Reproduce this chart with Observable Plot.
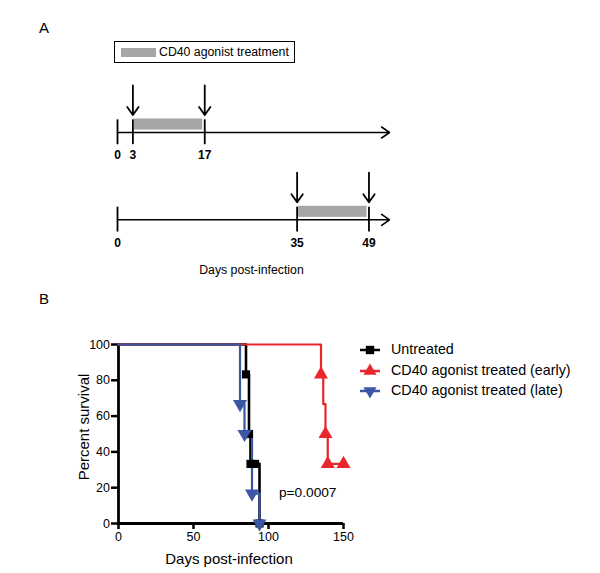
<!DOCTYPE html>
<html><head><meta charset="utf-8">
<script src="https://cdn.jsdelivr.net/npm/d3@7"></script>
<script src="https://cdn.jsdelivr.net/npm/@observablehq/plot@0.6"></script>
<style>
body{margin:0;background:#fff;font-family:"Liberation Sans",Arial,sans-serif;}
#root{position:relative;width:600px;height:573px;overflow:hidden;background:#fff}
.abs{position:absolute}
svg{overflow:visible}
</style></head><body><div id="root"></div>
<script>
// ---------- Panel A data ----------
const laneNames = ["early", "late"];
const laneIndex = [0, 1];
const treatStart = [3, 35];
const treatEnd = [17, 49];
const laneTicks = [[0, 3, 17], [0, 35, 49]];
const timelineMax = 53;
const panelAXLabel = "Days post-infection";
const treatmentLabel = "CD40 agonist treatment";

// ---------- Panel B data ----------
const seriesNames = ["Untreated", "CD40 agonist treated (early)", "CD40 agonist treated (late)"];
const seriesColors = ["#000000", "#e8262b", "#3b56a5"];
const seriesSymbols = ["square", "triangle", "triangle"];
const seriesRotate = [0, 0, 180];
const untreatedDays = [0, 85, 87, 88, 91, 94];
const untreatedSurv = [100, 83.3, 50, 33.3, 33.3, 0];
const untreatedMarked = [false, true, true, true, true, true];
const earlyDays = [0, 135, 136.5, 138, 139.5, 150];
const earlySurv = [100, 83.3, 66.7, 50, 33.3, 33.3];
const earlyMarked = [false, true, false, true, true, true];
const lateDays = [0, 81, 84, 89, 94];
const lateSurv = [100, 66.7, 50, 16.7, 0];
const lateMarked = [false, true, true, true, true];
const xTicks = [0, 50, 100, 150];
const yTicks = [0, 20, 40, 60, 80, 100];
const xLabelB = "Days post-infection";
const yLabelB = "Percent survival";
const pValueText = ["p=0.0007"];
const pValueX = [107];
const pValueY = [17];

const FONT = '"Liberation Sans", Arial, sans-serif';
const root = document.getElementById("root");

function place(el, left, top) {
  el.classList.add("abs");
  el.style.left = left + "px";
  el.style.top = top + "px";
  root.appendChild(el);
  return el;
}

// ---------- Panel A ----------
const lanes = laneNames.map((n, i) => ({name: n, lane: laneIndex[i], start: treatStart[i], end: treatEnd[i], from: 0, to: timelineMax}));
const tickData = lanes.flatMap((l, i) => laneTicks[i].map(d => ({day: d, lane: l.lane})));
const arrowData = lanes.flatMap(l => [l.start, l.end].map(d => ({day: d, lane: l.lane})));

const plotA = Plot.plot({
  width: 600, height: 290,
  style: {fontFamily: FONT, background: "transparent", overflow: "visible"},
  x: {domain: [0, timelineMax], range: [117, 389], axis: null},
  y: {domain: [0, 1], range: [132, 219.3], axis: null},
  marks: [
    Plot.rect(lanes, {x1: "start", x2: "end", y1: d => d.lane - 0.155, y2: d => d.lane - 0.028, fill: "#a6a6a6", insetLeft: 1.5, insetRight: 2}),
    Plot.arrow(lanes, {x1: "from", x2: "to", y1: "lane", y2: "lane", stroke: "#000", strokeWidth: 1.6, headLength: 9, headAngle: 70}),
    Plot.ruleX(tickData, {x: "day", y1: d => d.lane - 0.145, y2: d => d.lane + 0.14, stroke: "#000", strokeWidth: 1.8}),
    Plot.arrow(arrowData, {x1: "day", x2: "day", y1: d => d.lane - 0.54, y2: d => d.lane - 0.2, stroke: "#000", strokeWidth: 1.8, headLength: 9, headAngle: 70}),
    Plot.text(tickData, {x: "day", y: d => d.lane + 0.265, text: d => String(d.day), fontWeight: "bold", fontSize: 12, fill: "#000"}),
    Plot.text([panelAXLabel], {x: 26.1, y: 1.575, text: d => d, fontSize: 12.3, fill: "#000"})
  ]
});
place(plotA, 0, 0);

const labA = document.createElement("div");
labA.textContent = "A";
labA.style.cssText = "font-size:15px;color:#000;";
place(labA, 39, 19);

const box = document.createElement("div");
box.style.cssText = "width:179px;height:20px;border:1.5px solid #000;box-sizing:content-box;font-size:12.3px;color:#000;";
const sw = document.createElement("div");
sw.style.cssText = "position:absolute;left:6px;top:6px;width:35px;height:9px;background:#a6a6a6;";
box.appendChild(sw);
const bt = document.createElement("div");
bt.textContent = treatmentLabel;
bt.style.cssText = "position:absolute;left:44px;top:3px;white-space:nowrap;";
box.appendChild(bt);
place(box, 114, 41);

// ---------- Panel B ----------
const labB = document.createElement("div");
labB.textContent = "B";
labB.style.cssText = "font-size:15px;color:#000;";
place(labB, 39, 290);

const seriesDays = [untreatedDays, earlyDays, lateDays];
const seriesSurv = [untreatedSurv, earlySurv, lateSurv];
const seriesMarked = [untreatedMarked, earlyMarked, lateMarked];
const seriesWidth = [2.6, 2.2, 2.2];
const rows = seriesNames.map((name, s) => seriesDays[s].map((d, i) => ({series: name, day: d, surv: seriesSurv[s][i], marked: seriesMarked[s][i]})));

const lineMarks = [];
const drawOrder = [0, 1, 2];
for (const s of drawOrder) {
  lineMarks.push(Plot.line(rows[s], {x: "day", y: "surv", curve: "step-after", stroke: seriesColors[s], strokeWidth: seriesWidth[s]}));
}
const dotMarks = [];
for (const s of drawOrder) {
  dotMarks.push(Plot.dot(rows[s].filter(d => d.marked), {x: "day", y: "surv", symbol: seriesSymbols[s], r: seriesSymbols[s] === "square" ? 4.6 : 5.2, fill: seriesColors[s], stroke: "none", rotate: seriesRotate[s]}));
}

const plotB = Plot.plot({
  width: 600, height: 273,
  marginLeft: 118, marginRight: 257, marginTop: 44, marginBottom: 50,
  style: {fontFamily: FONT, fontSize: "12.5px", background: "transparent", overflow: "visible", color: "#000"},
  x: {domain: [0, 150]},
  y: {domain: [0, 100]},
  marks: [
    Plot.axisX({ticks: xTicks, tickSize: 6, tickPadding: 3, fontSize: 12.5, strokeWidth: 2.5, label: null, stroke: "#000", fill: "#000"}),
    Plot.axisY({ticks: yTicks, tickSize: 7, tickPadding: 1.5, fontSize: 12.5, strokeWidth: 2.5, label: null, stroke: "#000", fill: "#000"}),
    Plot.ruleY([0], {stroke: "#000", strokeWidth: 2.8}),
    Plot.ruleX([0], {stroke: "#000", strokeWidth: 2.8}),
    ...lineMarks,
    ...dotMarks,
    Plot.text(pValueText, {x: (d, i) => pValueX[i], y: (d, i) => pValueY[i], text: d => d, textAnchor: "start", fontSize: 13.7, fill: "#000"}),
    Plot.text([yLabelB], {frameAnchor: "left", text: d => d, rotate: -90, textAnchor: "middle", lineAnchor: "middle", dx: -34, dy: -7, fontSize: 15, fill: "#000"}),
    Plot.text([xLabelB], {frameAnchor: "bottom", text: d => d, textAnchor: "middle", lineAnchor: "middle", dy: 35.5, dx: -2, fontSize: 15, fill: "#000"})
  ]
});
place(plotB, 0, 300);

// Legend B
seriesNames.forEach((name, s) => {
  const item = document.createElement("div");
  item.style.cssText = "height:18px;white-space:nowrap;font-size:14.3px;color:#000;";
  const svg = d3.create("svg").attr("width", 24).attr("height", 16).style("position", "absolute").style("left", "0px").style("top", "1px");
  svg.append("line").attr("x1", 2).attr("x2", 22).attr("y1", 8).attr("y2", 8).attr("stroke", seriesColors[s]).attr("stroke-width", 2.5);
  const sym = seriesSymbols[s] === "square" ? d3.symbolSquare : d3.symbolTriangle;
  svg.append("path").attr("d", d3.symbol(sym, seriesSymbols[s] === "square" ? 70 : 75)())
    .attr("transform", `translate(12,8) rotate(${seriesRotate[s]})`).attr("fill", seriesColors[s]);
  item.appendChild(svg.node());
  const t = document.createElement("span");
  t.textContent = name;
  t.style.cssText = "position:absolute;left:33px;top:0px;";
  item.appendChild(t);
  place(item, 358, 341 + s * 20.7);
});
</script>
</body></html>
